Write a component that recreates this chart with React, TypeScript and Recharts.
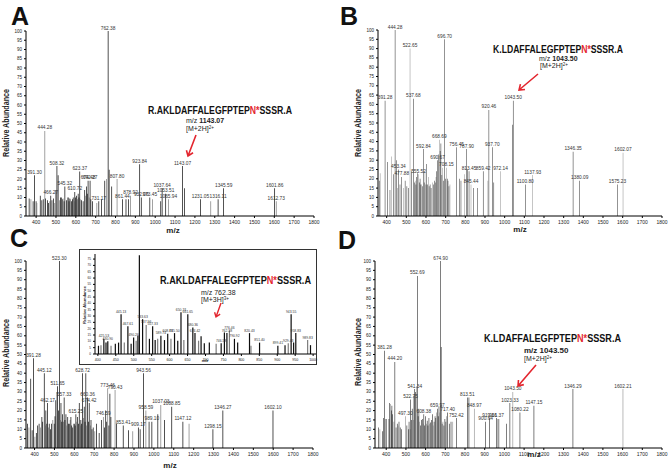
import React from 'react';
import { BarChart, Bar, XAxis, YAxis, Cell, LabelList } from 'recharts';

type Peak = [number, number, string?];

const mainXTicks = [400, 500, 600, 700, 800, 900, 1000, 1100, 1200, 1300, 1400, 1500, 1600, 1700, 1800];
const mainYTicks = [0, 5, 10, 15, 20, 25, 30, 35, 40, 45, 50, 55, 60, 65, 70, 75, 80, 85, 90, 95, 100];
const insetXTicks = [400, 450, 500, 550, 600, 650, 700, 750, 800, 850, 900, 950, 1000];
const insetYTicks = [0, 5, 10, 15, 20, 25, 30, 35, 40, 45, 50, 55, 60, 65, 70, 75];

const peptideA = 'R.AKLDAFFALEGFPTEP';
const peptideB = 'K.LDAFFALEGFPTEP';
const glycoSite = 'N*';
const peptideTail = 'SSSR.A';

const peaksA: Peak[] = [
  [365, 9.5], [374, 9], [385, 8], [392, 22, '391.30'], [400, 8], [404, 7], [421, 11], [429, 8.5], [436, 9],
  [444, 46, '444.28'], [448, 9.5], [457, 8.5], [463, 7], [469, 8], [474, 11, '466.27'], [480, 8.5], [488, 9.5],
  [494, 7], [500, 14], [505, 27, '508.32'], [511, 22], [519, 8.5], [523, 10], [527, 10], [532, 9], [536, 9.5],
  [541, 8], [545, 16, '545.32'], [553, 8.5], [558, 10], [562, 10], [566, 8], [570, 9.5], [574, 9], [578, 8],
  [583, 9], [587, 10], [591, 8], [595, 13, '610.72'], [599, 10], [603, 11], [608, 9], [612, 12], [616, 10],
  [620, 24, '623.37'], [625, 9], [629, 8.5], [637, 8], [645, 14], [650, 11], [654, 16], [658, 12],
  [662, 19, '674.48'], [667, 10], [672, 19, '692.27'], [676, 9], [684, 8], [706, 7], [716, 8, '731.17'], [730, 9],
  [746, 19], [755, 20], [763, 100, '762.38'], [768, 25], [781, 16], [808, 20, '807.80'], [835, 9, '861.44'],
  [853, 9], [866, 9], [876, 11, '878.92'], [922, 28, '923.84'], [930, 10, '932.06'], [973, 10, '973.45'], [987, 9],
  [1028, 8], [1035, 15, '1037.64'], [1053, 12, '1053.51'], [1067, 9, '1065.94'], [1138, 27, '1143.07'], [1147, 15],
  [1228, 9, '1231.05'], [1280, 8], [1317, 9, '1316.11'], [1345, 15, '1345.59'], [1602, 15, '1601.86'], [1610, 8, '1612.73'],
];

const peaksB: Peak[] = [
  [364, 19], [367, 23], [392, 62, '391.28'], [404, 29], [417, 14], [426, 32], [434, 22.5], [443, 100, '444.28'],
  [451, 30], [456, 15], [460, 25, '453.34'], [468, 17], [477, 21, '477.88'], [485, 15], [494, 19], [503, 16],
  [511, 15], [519, 90, '522.65'], [527, 24], [536, 63, '537.68'], [541, 18], [545, 19], [549, 17], [553, 21],
  [558, 23], [562, 22.5, '555.52'], [566, 18], [570, 20], [574, 17], [578, 17], [583, 16], [587, 36, '592.84'],
  [591, 18], [595, 24], [600, 17], [604, 28], [608, 17], [612, 21], [616, 16], [621, 17], [626, 15], [634, 18],
  [638, 17], [643, 19], [647, 18], [651, 21], [655, 24], [659, 30, '690.67'], [664, 33], [668, 41, '668.69'],
  [672, 35], [676, 39], [681, 22], [685, 26], [690, 19], [695, 95, '696.70'], [699, 20], [704, 26, '708.15'],
  [708, 20], [712, 19], [717, 16], [722, 17], [756, 37, '756.45'], [770, 20], [778, 19], [795, 22.5],
  [807, 36, '787.90'], [812, 25], [819, 24, '813.45'], [829, 17, '845.44'], [841, 15], [861, 15], [891, 24, '859.42'],
  [915, 19], [920, 57, '920.46'], [937, 37, '937.70'], [945, 18], [979, 24, '972.14'], [1041, 49],
  [1043.5, 62, '1043.50'], [1105, 17, '1100.80'], [1143, 22, '1137.93'], [1348, 34.5, '1346.35'],
  [1382, 19, '1380.09'], [1574, 17, '1575.23'], [1602, 34, '1602.07'],
];

const peaksC: Peak[] = [
  [364, 13], [372, 11], [381, 37], [388, 9.5], [395, 48, '391.28'], [402, 6], [409, 8], [416, 12], [423, 13],
  [430, 11], [437, 16.6], [441, 14], [449, 40, '445.12'], [453, 12], [457, 20], [462, 13], [466, 24, '462.17'],
  [470, 11], [474, 13], [480, 10], [486, 13], [492, 15], [499, 13], [503, 17], [507, 25.5], [512, 30],
  [516, 33, '511.65'], [520, 20], [525, 100, '523.30'], [529, 15], [533, 24], [537, 14], [541, 18], [545, 14],
  [549, 27, '557.33'], [553, 15], [558, 18], [562, 12], [567, 16.6], [571, 13], [575, 13], [579, 15], [583, 16.6],
  [587, 12], [592, 11], [596, 13], [600, 13], [604, 12], [608, 18, '615.25'], [612, 14], [617, 16.6], [621, 13],
  [625, 24], [629, 12], [633, 15], [637, 13], [642, 40, '628.72'], [646, 16], [650, 22], [654, 14], [658, 40],
  [662, 12], [667, 27, '660.36'], [671, 14], [675, 24, '674.42'], [680, 12], [684, 15], [689, 10], [695, 11],
  [703, 9], [712, 13], [725, 8], [737, 15], [746, 16.6, '746.59'], [752, 11], [758, 20], [763, 14],
  [768, 32, '773.46'], [774, 12], [779, 29], [784, 16.6], [805, 31, '790.43'], [813, 13], [846, 12, '853.41'],
  [872, 9.5], [894, 9], [922, 11, '909.17'], [931, 10], [948, 40, '943.56'], [960, 20, '958.59'], [976, 14],
  [990, 14, '989.10'], [1020, 18], [1035, 23, '1037.03'], [1053, 15], [1090, 22, '1088.85'], [1146, 14, '1147.12'],
  [1177, 13], [1297, 10, '1298.15'], [1347, 20, '1346.27'], [1599, 20, '1602.10'],
];

const peaksD: Peak[] = [
  [360, 11], [368, 10], [380, 9], [387, 16], [392, 52, '381.28'], [396, 15.5], [400, 15.5], [414, 15.5], [418, 24],
  [422, 23.5], [426, 20], [429, 22.6], [433, 18], [439, 14], [444, 46, '444.20'], [450, 11], [456, 13], [460, 12],
  [465, 14], [471, 11], [478, 10], [497, 17, '497.30'], [505, 12], [512, 10], [516, 14], [521, 10],
  [524, 26, '522.75'], [528, 15], [532, 21], [537, 15], [541, 28], [545, 31.5, '541.34'], [549, 30], [553, 33],
  [558, 92, '552.69'], [562, 17], [566, 21], [570, 14], [574, 12], [578, 15], [583, 15.5], [587, 13],
  [591, 18, '608.38'], [595, 12], [600, 17], [604, 13], [608, 14.6], [612, 12], [617, 16], [621, 13], [625, 13.7],
  [629, 15], [634, 18], [638, 12], [643, 14], [648, 17], [652, 16], [656, 19], [660, 21, '659.97'], [664, 17],
  [668, 22], [672, 19], [676, 100, '674.90'], [679, 54], [684, 13], [688, 14], [693, 12], [698, 15.5], [703, 14],
  [707, 17], [712, 19, '717.40'], [720, 13], [729, 14], [738, 14], [756, 16, '752.42'], [812, 27, '813.51'],
  [820, 27], [847, 21, '848.97'], [905, 14, '900.64'], [925, 16, '919.16'], [960, 16, '961.37'], [966, 15.5],
  [972, 15.5], [1011, 13], [1028, 24, '1023.33'], [1043, 30, '1043.50'], [1079, 19, '1080.22'],
  [1150, 22.6, '1147.15'], [1348, 31.5, '1346.29'], [1602, 31.5, '1602.21'],
];

const peaksInset: Peak[] = [
  [402, 6.5], [409, 7], [417, 12, '425.53'], [423, 9], [428, 10, '430.90'], [437, 6.5], [449, 8], [458, 9],
  [465, 31.5, '445.13'], [474, 9], [484, 22, '467.61'], [493, 8], [500, 13, '490.26'], [507, 10.5], [512, 14.5],
  [516, 78], [525, 27.5, '533.63'], [535, 23, '537.96'], [544, 12], [553, 22, '557.33'], [560, 11], [567, 12],
  [576, 14.5, '589.74'], [586, 11], [595, 16, '608.78'], [604, 12], [614, 16.5, '615.50'], [623, 10.5],
  [632, 33, '650.74'], [640, 11], [651, 31.5, '661.65'], [665, 21, '680.36'], [671, 16.5, '674.42'], [681, 10.5],
  [688, 14], [697, 8.5], [711, 9], [730, 8], [744, 8.5, '746.58'], [753, 17], [760, 16.5, '762.38'],
  [767, 18.5, '776.46'], [781, 12, '790.92'], [790, 9], [823, 16.5, '820.43'], [827, 6.5], [851, 9, '851.40'],
  [902, 6.5, '899.41'], [922, 7], [931, 8.5, '929.43'], [939, 31.5, '943.55'], [946, 9], [952, 16.5, '958.83'],
  [985, 11, '989.83'], [993, 7],
];

const FONT = '"Liberation Sans", Arial, sans-serif';

type SpecProps = {
  peaks: Peak[];
  x0: number; x1: number; y0: number; y1: number;
  domain: [number, number];
  yMax: number;
  xTicks: number[];
  yTicks: number[];
  tickFont: number;
  labelFont: number;
  barSize: number;
};

function Spectrum({ peaks, x0, x1, y0, y1, domain, yMax, xTicks, yTicks, tickFont, labelFont, barSize }: SpecProps) {
  const data = peaks.map(([mz, ab, lab]) => ({ mz, ab, lab: lab ?? '' }));
  const yw = 16, mt = 8, mr = 8, xh = 12;
  const renderLabel = (p: any) => {
    const { x, y, width, value } = p;
    if (!value) return null;
    return (
      <text x={Number(x) + Number(width) / 2} y={Number(y) - 1.5} fontSize={labelFont} textAnchor="middle" fill="#333" fontFamily={FONT}>
        {value}
      </text>
    );
  };
  return (
    <div style={{ position: 'absolute', left: x0 - yw, top: y0 - mt }}>
      <BarChart
        width={x1 - x0 + yw + mr}
        height={y1 - y0 + mt + xh}
        data={data}
        margin={{ top: mt, right: mr, left: 0, bottom: 0 }}
        barGap={0}
        barCategoryGap={0}
      >
        <XAxis
          type="number"
          dataKey="mz"
          domain={domain}
          ticks={xTicks}
          allowDataOverflow
          interval={0}
          height={xh}
          tickSize={2}
          stroke="#000"
          tick={{ fontSize: tickFont, fill: '#222', fontFamily: FONT }}
        />
        <YAxis
          type="number"
          domain={[0, yMax]}
          ticks={yTicks}
          allowDataOverflow
          interval={0}
          width={yw}
          tickSize={2}
          stroke="#000"
          tick={{ fontSize: tickFont - 0.5, fill: '#222', fontFamily: FONT }}
        />
        <Bar dataKey="ab" barSize={barSize} isAnimationActive={false}>
          {data.map((d, i) => (
            <Cell key={i} fill={i % 4 === 1 ? '#7d7d7d' : '#0d0d0d'} />
          ))}
          <LabelList dataKey="lab" content={renderLabel} />
        </Bar>
      </BarChart>
    </div>
  );
}

function arrowPath(x1: number, y1: number, x2: number, y2: number, len = 6) {
  const dx = x2 - x1, dy = y2 - y1;
  const L = Math.hypot(dx, dy);
  const ux = dx / L, uy = dy / L;
  const a = Math.PI / 5;
  const cos = Math.cos(a), sin = Math.sin(a);
  const lx = x2 - len * (ux * cos - uy * sin), ly = y2 - len * (uy * cos + ux * sin);
  const rx = x2 - len * (ux * cos + uy * sin), ry = y2 - len * (uy * cos - ux * sin);
  return `M${x1},${y1} L${x2},${y2} M${lx},${ly} L${x2},${y2} L${rx},${ry}`;
}

const RED = '#e3262f';

function Sequence({ x, y, w, fs, head }: { x: number; y: number; w: number; fs: number; head: string }) {
  return (
    <text x={x} y={y} fontSize={fs} fontWeight="bold" fontFamily={FONT} fill="#111" textLength={w} lengthAdjust="spacingAndGlyphs">
      {head}
      <tspan fill={RED}>{glycoSite}</tspan>
      {peptideTail}
    </text>
  );
}

function Charge({ x, y, fs, n }: { x: number; y: number; fs: number; n: number }) {
  return (
    <text x={x} y={y} fontSize={fs} fontFamily={FONT} fill="#222">
      {`[M+${n}H]`}
      <tspan fontSize={fs * 0.65} dy={-fs * 0.35}>{`${n}+`}</tspan>
    </text>
  );
}

export default function App() {
  return (
    <div style={{ position: 'absolute', left: 0, top: 0, width: 672, height: 473, background: '#fff', overflow: 'hidden', fontFamily: FONT }}>
      <Spectrum peaks={peaksA} x0={26} x1={314} y0={31} y1={216} domain={[349, 1800]} yMax={100} xTicks={mainXTicks} yTicks={mainYTicks} tickFont={5} labelFont={4.8} barSize={1.6} />
      <Spectrum peaks={peaksB} x0={378} x1={662} y0={30} y1={216} domain={[356, 1800]} yMax={100} xTicks={mainXTicks} yTicks={mainYTicks} tickFont={5} labelFont={4.8} barSize={1.6} />
      <Spectrum peaks={peaksC} x0={26} x1={313} y0={261} y1={448} domain={[357, 1800]} yMax={100} xTicks={mainXTicks} yTicks={mainYTicks} tickFont={5} labelFont={4.8} barSize={1.6} />
      <Spectrum peaks={peaksD} x0={375} x1={662} y0={261} y1={448} domain={[343, 1800]} yMax={100} xTicks={mainXTicks} yTicks={mainYTicks} tickFont={5} labelFont={4.8} barSize={1.6} />

      <div style={{ position: 'absolute', left: 79, top: 249, width: 236, height: 114, border: '1px solid #333', background: '#fff' }} />
      <Spectrum peaks={peaksInset} x0={95} x1={316} y0={254} y1={354} domain={[392, 1008]} yMax={79} xTicks={insetXTicks} yTicks={insetYTicks} tickFont={3.6} labelFont={3.4} barSize={1.2} />

      <svg width={672} height={473} style={{ position: 'absolute', left: 0, top: 0, pointerEvents: 'none' }}>
        <text x={11} y={25} fontSize={25} fontWeight="bold" fontFamily={FONT} fill="#111">A</text>
        <text x={340} y={25} fontSize={25} fontWeight="bold" fontFamily={FONT} fill="#111">B</text>
        <text x={10} y={247} fontSize={25} fontWeight="bold" fontFamily={FONT} fill="#111">C</text>
        <text x={338} y={249} fontSize={25} fontWeight="bold" fontFamily={FONT} fill="#111">D</text>

        <text transform="translate(9,123) rotate(-90)" textAnchor="middle" fontSize={8.5} fontWeight="bold" fontFamily={FONT} fill="#222" textLength={68} lengthAdjust="spacingAndGlyphs">Relative Abundance</text>
        <text transform="translate(361,123) rotate(-90)" textAnchor="middle" fontSize={8.5} fontWeight="bold" fontFamily={FONT} fill="#222" textLength={68} lengthAdjust="spacingAndGlyphs">Relative Abundance</text>
        <text transform="translate(9,353) rotate(-90)" textAnchor="middle" fontSize={8.5} fontWeight="bold" fontFamily={FONT} fill="#222" textLength={68} lengthAdjust="spacingAndGlyphs">Relative Abundance</text>
        <text transform="translate(361,352) rotate(-90)" textAnchor="middle" fontSize={8.5} fontWeight="bold" fontFamily={FONT} fill="#222" textLength={68} lengthAdjust="spacingAndGlyphs">Relative Abundance</text>
        <text transform="translate(86,305) rotate(-90)" textAnchor="middle" fontSize={4} fontWeight="bold" fontFamily={FONT} fill="#222">Relative Abundance</text>

        <text x={173} y={233} textAnchor="middle" fontSize={8} fontWeight="bold" fontFamily={FONT} fill="#222">m/z</text>
        <text x={520} y={232} textAnchor="middle" fontSize={8} fontWeight="bold" fontFamily={FONT} fill="#222">m/z</text>
        <text x={170} y={468} textAnchor="middle" fontSize={8} fontWeight="bold" fontFamily={FONT} fill="#222">m/z</text>
        <text x={534} y={457} textAnchor="middle" fontSize={8} fontWeight="bold" fontFamily={FONT} fill="#222">m/z</text>
        <text x={205} y={362} textAnchor="middle" fontSize={4} fontWeight="bold" fontFamily={FONT} fill="#222">m/z</text>

        <Sequence x={148} y={114} w={144} fs={10.5} head={peptideA} />
        <text x={186} y={123} fontSize={7} fontFamily={FONT} fill="#222">m/z <tspan fontWeight="bold">1143.07</tspan></text>
        <Charge x={186} y={131} fs={7} n={2} />
        <path d={arrowPath(196, 135, 188, 156)} stroke={RED} strokeWidth={1.6} fill="none" />

        <Sequence x={493} y={53} w={130} fs={10} head={peptideB} />
        <text x={539} y={61} fontSize={7} fontFamily={FONT} fill="#222">m/z <tspan fontWeight="bold">1043.50</tspan></text>
        <Charge x={540} y={68} fs={7} n={2} />
        <path d={arrowPath(538, 74, 519, 90)} stroke={RED} strokeWidth={1.6} fill="none" />

        <Sequence x={160} y={284} w={151} fs={10.5} head={peptideA} />
        <text x={201} y={295} fontSize={7} fontFamily={FONT} fill="#222">m/z 762.38</text>
        <Charge x={201} y={302} fs={7} n={3} />
        <path d={arrowPath(221, 303, 216, 317, 5)} stroke={RED} strokeWidth={1.4} fill="none" />

        <Sequence x={484} y={342} w={137} fs={10.5} head={peptideB} />
        <text x={524} y={353} fontSize={8} fontWeight="bold" fontFamily={FONT} fill="#222">m/z 1043.50</text>
        <Charge x={524} y={361} fs={7} n={2} />
        <path d={arrowPath(536, 365, 518, 386)} stroke={RED} strokeWidth={1.6} fill="none" />
      </svg>
    </div>
  );
}
